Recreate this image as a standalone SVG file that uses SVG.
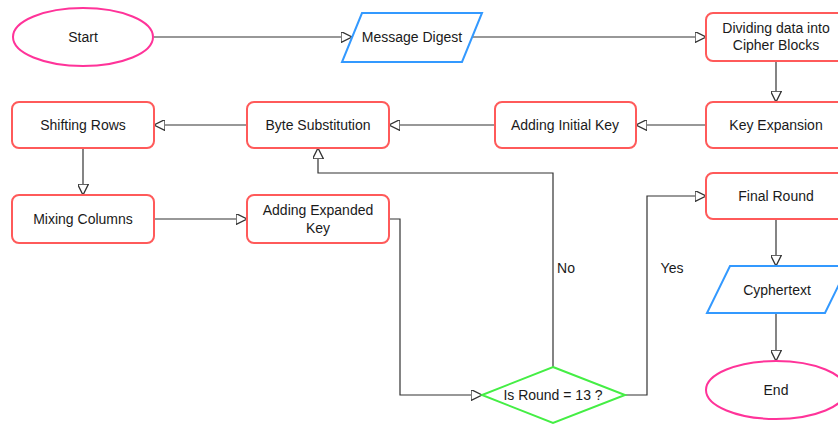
<svg xmlns="http://www.w3.org/2000/svg" width="838" height="426" viewBox="0 0 838 426">
<defs>
<style>
.t{font-family:"Liberation Sans",Arial,sans-serif;font-size:14px;fill:#1a1a1a;text-anchor:middle;dominant-baseline:central}
.box{fill:#fff;stroke:#ff5a5a;stroke-width:2}
.ell{fill:#fff;stroke:#ff3399;stroke-width:2}
.par{fill:#fff;stroke:#3399ff;stroke-width:2}
.dia{fill:#fff;stroke:#44ee44;stroke-width:2}
.c{fill:none;stroke:#333;stroke-width:1.2}
</style>
<marker id="ah" viewBox="0 0 10 10" refX="10" refY="5" markerWidth="11" markerHeight="11" markerUnits="userSpaceOnUse" orient="auto">
<path d="M0,0 L10,5 L0,10 Z" fill="#fff" stroke="#333" stroke-width="1.2"/>
</marker>
</defs>
<rect width="838" height="426" fill="#fff"/>
<g id="connectors">
<path class="c" d="M154,37 H352" marker-end="url(#ah)"/>
<path class="c" d="M472,37 H706" marker-end="url(#ah)"/>
<path class="c" d="M776,61 V102" marker-end="url(#ah)"/>
<path class="c" d="M706,125 H636" marker-end="url(#ah)"/>
<path class="c" d="M495,125 H389" marker-end="url(#ah)"/>
<path class="c" d="M247,125 H154" marker-end="url(#ah)"/>
<path class="c" d="M83,148 V195" marker-end="url(#ah)"/>
<path class="c" d="M154,219 H247" marker-end="url(#ah)"/>
<path class="c" d="M389,219 H400 V395 H482" marker-end="url(#ah)"/>
<path class="c" d="M553,367 V173 H318 V148" marker-end="url(#ah)"/>
<path class="c" d="M625,395 H647 V196 H706" marker-end="url(#ah)"/>
<path class="c" d="M776,219 V266" marker-end="url(#ah)"/>
<path class="c" d="M776,313 V361" marker-end="url(#ah)"/>
<text class="t" x="566" y="268">No</text>
<text class="t" x="672" y="268">Yes</text>
</g>
<g id="start"><ellipse class="ell" cx="83" cy="37" rx="70" ry="29"/><text class="t" x="83" y="37">Start</text></g>
<g id="message-digest"><polygon class="par" points="362,13 482,13 462,62 342,62"/><text class="t" x="412" y="37">Message Digest</text></g>
<g id="dividing"><rect class="box" x="706" y="13" width="140" height="48" rx="7"/><text class="t" x="776" y="28">Dividing data into</text><text class="t" x="776" y="45">Cipher Blocks</text></g>
<g id="key-expansion"><rect class="box" x="706" y="102" width="140" height="46" rx="7"/><text class="t" x="776" y="125">Key Expansion</text></g>
<g id="adding-initial-key"><rect class="box" x="495" y="102" width="141" height="46" rx="7"/><text class="t" x="565" y="125">Adding Initial Key</text></g>
<g id="byte-substitution"><rect class="box" x="247" y="102" width="142" height="46" rx="7"/><text class="t" x="318" y="125">Byte Substitution</text></g>
<g id="shifting-rows"><rect class="box" x="12" y="102" width="142" height="46" rx="7"/><text class="t" x="83" y="125">Shifting Rows</text></g>
<g id="mixing-columns"><rect class="box" x="12" y="195" width="142" height="48" rx="7"/><text class="t" x="83" y="219">Mixing Columns</text></g>
<g id="adding-expanded-key"><rect class="box" x="247" y="195" width="142" height="48" rx="7"/><text class="t" x="318" y="210">Adding Expanded</text><text class="t" x="318" y="228">Key</text></g>
<g id="decision"><polygon class="dia" points="553,367 625,395 553,423 482,395"/><text class="t" x="553" y="395">Is Round = 13 ?</text></g>
<g id="final-round"><rect class="box" x="706" y="173" width="140" height="46" rx="7"/><text class="t" x="776" y="196">Final Round</text></g>
<g id="cyphertext"><polygon class="par" points="730,266 848,266 825,313 707,313"/><text class="t" x="777" y="290">Cyphertext</text></g>
<g id="end"><ellipse class="ell" cx="776" cy="390" rx="70" ry="29"/><text class="t" x="776" y="390">End</text></g>
</svg>
